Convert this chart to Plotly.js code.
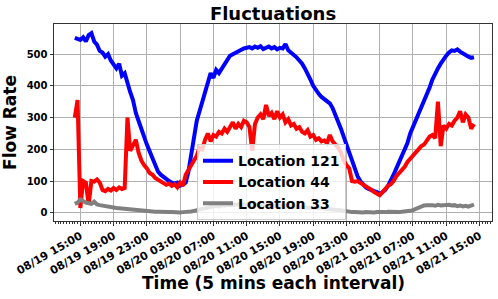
<!DOCTYPE html>
<html>
<head>
<meta charset="utf-8">
<script src="https://cdn.plot.ly/plotly-3.0.1.min.js"></script>
<style>html,body{margin:0;padding:0;background:#fff;}#chart{width:498px;height:299px;}</style>
</head>
<body>
<div id="chart"></div>
<script>
// Series sampled every 20 minutes, starting 08/19 14:20
const startTime = '2024-08-19T14:20:00Z';
const stepMinutes = 20;

const loc121 = [
  551, 548,
  545, 553, 540,  560, 566, 540,  530, 510, 505,  492, 500, 480,
  468, 455, 470,  432, 440, 405,  380, 355, 315,  290, 260, 240,
  215, 195, 170,  148, 130, 120,  112, 108, 100,  95, 92, 95,
  85, 88, 95,  130, 180, 235,  290, 320, 350,  385, 420, 440,
  425, 450, 440,  455, 470, 480,  495, 500, 505,  510, 512, 518,
  520, 522, 518,  524, 520, 525,  516, 520, 524,  518, 522, 515,
  520, 518, 532,  512, 505, 500,  490, 480, 470,  455, 440, 420,
  400, 385, 375,  365, 358, 350,  345, 330, 310,  285, 265, 240,
  215, 190, 165,  140, 115, 100,  88, 80, 75,  70, 68, 65,
  60, 65, 72,  85, 100, 120,  140, 160, 180,  200, 220, 250,
  270, 290, 310,  330, 355, 375,  395, 420, 440,  455, 470, 485,
  495, 505, 512,  510, 515, 508,  502, 498, 492,
  488, 490
];

const loc44 = [
  300, 355,
  15, 100, 95,  25, 100, 98,  105, 95, 72,  68, 75, 70,
  78, 72, 80,  75, 78, 300,  195, 215, 230,  190, 165, 150,
  140, 125, 120,  110, 105, 100,  95, 88, 92,  85, 90, 80,
  95, 85, 120,  135, 150, 165,  180, 205, 200,  230, 250, 225,
  245, 240, 255,  250, 265, 255,  270, 285, 265,  280, 270, 290,
  285, 270, 195,  280, 300, 310,  295, 340, 305,  315, 295, 320,
  300, 310, 285,  295, 275, 280,  265, 270, 255,  250, 260, 240,
  245, 230, 235,  225, 228, 220,  245, 225, 215,  205, 190, 165,
  150, 140, 100,  98, 100, 95,  90, 85, 78,  72, 65, 60,
  55, 65, 75,  85, 90, 100,  115, 125, 135,  145, 160, 170,
  180, 190, 200,  210, 215, 230,  240, 245, 235,  350, 210, 275,
  265, 280, 275,  290, 300, 320,  285, 310, 300,
  265, 280
];

const loc33 = [
  28, 32,
  42, 35, 32,  30, 28, 35,  26, 24, 22,  20, 18, 18,
  16, 15, 14,  13, 11, 10,  9, 8, 7,  6, 5, 5,
  4, 4, 3,  3, 3, 2,  2, 2, 2,  2, 1, 2,
  1, 2, 2,  3, 4, 6,  8, 10, 12,  15, 16, 18,
  20, 22, 20,  24, 22, 25,  24, 26, 25,  27, 24, 26,
  25, 27, 24,  26, 25, 24,  25, 23, 24,  22, 23, 21,
  22, 20, 21,  19, 20, 18,  19, 17, 18,  16, 17, 15,
  16, 14, 15,  13, 14, 12,  12, 11, 10,  9, 8, 6,
  5, 3, 2,  2, 1, 2,  1, 2, 1,  2, 1, 2,
  1, 2, 2,  3, 2, 3,  2, 2, 3,  3, 4, 6,
  8, 12, 17,  20, 23, 24,  25, 24, 22,  25, 23, 24,
  22, 25, 23,  24, 21, 23,  20, 22, 19,
  22, 26
];

const seriesNames = ['Location 121', 'Location 44', 'Location 33'];
const seriesColors = ['#0000ff', '#ff0000', '#808080'];
const xTitle = 'Time (5 mins each interval)';

function pad(n){ return (n < 10 ? '0' : '') + n; }
function timeAxis(n){
  const t0 = Date.parse(startTime);
  const out = [];
  for (let i = 0; i < n; i++) {
    const d = new Date(t0 + i * stepMinutes * 60000);
    out.push(d.getUTCFullYear() + '-' + pad(d.getUTCMonth()+1) + '-' + pad(d.getUTCDate()) + ' ' +
             pad(d.getUTCHours()) + ':' + pad(d.getUTCMinutes()) + ':00');
  }
  return out;
}

const FONT = 'DejaVu Sans';
const allSeries = [loc121, loc44, loc33];
const traces = allSeries.map((vals, k) => ({
  type: 'scatter', mode: 'lines',
  x: timeAxis(vals.length), y: vals,
  name: seriesNames[k],
  line: {color: seriesColors[k], width: 4}
}));

const layout = {
  width: 498, height: 299,
  margin: {l: 54, r: 6, t: 24, b: 78, pad: 0},
  paper_bgcolor: '#ffffff', plot_bgcolor: '#ffffff',
  font: {family: FONT, color: '#000', weight: 700},
  showlegend: true,
  title: {text: 'Fluctuations', font: {family: FONT, size: 18, weight: 700, color: '#000'},
          x: 0.5, xref: 'paper', y: 1 - 14/299, yref: 'container', yanchor: 'middle'},
  xaxis: {
    type: 'date',
    range: ['2024-08-19 11:50:00', '2024-08-21 16:30:00'],
    tick0: '2024-08-19 15:00:00', dtick: 4*3600*1000,
    tickformat: '%m/%d %H:%M', tickangle: -30,
    tickfont: {family: FONT, size: 11, weight: 700, color: '#000'},
    showgrid: true, gridcolor: '#b0b0b0', gridwidth: 1,
    showline: true, linecolor: '#333333', linewidth: 1, mirror: true,
    ticks: 'outside', ticklen: 3.5, tickcolor: '#333333',
    minor: {ticks: 'outside', ticklen: 2, dtick: 20*60000, tickcolor: '#333333', showgrid: false},
    zeroline: false
  },
  yaxis: {
    range: [-26, 595], tick0: 0, dtick: 100,
    tickfont: {family: FONT, size: 10, weight: 700, color: '#000'},
    showgrid: true, gridcolor: '#b0b0b0', gridwidth: 1,
    showline: true, linecolor: '#333333', linewidth: 1, mirror: true,
    ticks: 'outside', ticklen: 3.5, tickcolor: '#333333',
    zeroline: false,
    title: {text: 'Flow Rate', font: {family: FONT, size: 17, weight: 700, color: '#000'}, standoff: 8}
  },
  annotations: [{
    text: xTitle, xref: 'paper', yref: 'paper', x: 0.5, y: -62/197,
    xanchor: 'center', yanchor: 'middle', showarrow: false,
    font: {family: FONT, size: 17, weight: 700, color: '#000'}
  }],
  legend: {
    x: 0.3265, y: 0.39, xanchor: 'left', yanchor: 'top',
    bgcolor: 'rgba(255,255,255,0.8)', bordercolor: '#cccccc', borderwidth: 1,
    font: {family: FONT, size: 14, weight: 700, color: '#000'}
  }
};

Plotly.newPlot('chart', traces, layout, {staticPlot: true, displayModeBar: false});
</script>
</body>
</html>
